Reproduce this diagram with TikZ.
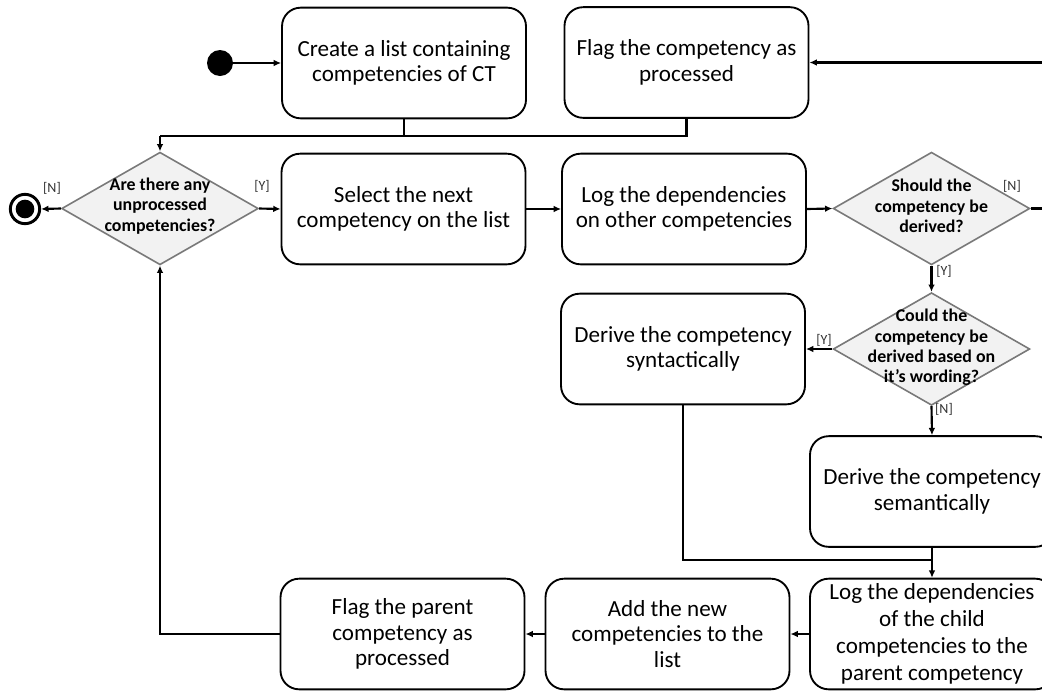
\documentclass[tikz,border=0pt]{standalone}
\usepackage{fontspec}
\setmainfont{Carlito}
\usetikzlibrary{shapes.geometric,arrows.meta}
\begin{document}
\begin{tikzpicture}[x=0.75pt,y=-0.75pt,
  box/.style={draw=black,line width=1.4pt,rounded corners=14pt,fill=white,
    minimum width=183pt,minimum height=83pt,align=center,inner sep=0pt,
    font=\fontsize{17.3}{19}\selectfont},
  dia/.style={diamond,draw=gray!95!black,line width=1.2pt,fill=gray!10,
    minimum width=147.5pt,minimum height=84.5pt,inner sep=0pt,aspect=1.74},
  diatext/.style={align=center,font=\fontsize{13.4}{15.3}\selectfont\bfseries},
  conn/.style={line width=1.6pt},
  arr/.style={conn,-{Latex[length=5.5pt,width=5pt]}},
  lab/.style={font=\fontsize{10.5}{11}\selectfont,text=black!80,inner sep=1pt}]
\useasboundingbox (0,0) rectangle (1042,690);
\clip (0,0) rectangle (1042,690);

% nodes
\node[circle,fill=black,minimum size=19.5pt,inner sep=0pt] (start) at (220,63) {};
\node[circle,draw=black,line width=2.2pt,fill=white,minimum size=22pt,inner sep=0pt] (end) at (25,209) {};
\node[circle,fill=black,minimum size=14pt,inner sep=0pt] (endin) at (end) {};

\node[box] (create) at (404,63) {Create a list containing\\competencies of CT};
\node[box] (flag) at (686.5,62.5) {Flag the competency as\\processed};
\node[box] (select) at (403.5,209) {Select the next\\competency on the list};
\node[box] (logdep) at (684,209) {Log the dependencies\\on other competencies};
\node[box] (syn) at (683,349) {Derive the competency\\syntactically};
\node[box] (sem) at (932,491.5) {Derive the competency\\semantically};
\node[box,font=\fontsize{17.3}{20.25}\selectfont] (child) at (932,634) {Log the dependencies\\of the child\\competencies to the\\parent competency};
\node[box] (addnew) at (667.5,634) {Add the new\\competencies to the\\list};
\node[box] (fparent) at (402.5,634) {Flag the parent\\competency as\\processed};

\node[dia] (d1) at (160,208.5) {};
\node[diatext] at (160,206) {Are there any\\unprocessed\\competencies?};
\node[dia] (d2) at (931.5,208.5) {};
\node[diatext] at (931.5,206) {Should the\\competency be\\derived?};
\node[dia] (d3) at (931.5,349) {};
\node[diatext] at (931.5,347.5) {Could the\\competency be\\derived based on\\it’s wording?};

\coordinate (j1) at (160,136);
\coordinate (j2) at (932,560);
\coordinate (r1) at (1050,208.5);

% connectors
\draw[arr] (start) -- (create);
\draw[conn] (create.south) |- (j1);
\draw[conn] (flag.south) |- (j1);
\draw[arr] (j1) -- (d1.north);
\draw[arr] (d1.west) -- (end.east);
\node[lab] at (52,188) {[N]};
\draw[arr] (d1.east) -- (select.west);
\node[lab] at (262,186) {[Y]};
\draw[arr] (select) -- (logdep);
\draw[arr] (logdep.east) -- (d2.west);
\draw[arr] (d2.east) -- (r1) |- (flag.east);
\node[lab] at (1012,186) {[N]};
\draw[arr] (d2.south) -- (d3.north);
\node[lab] at (944,271) {[Y]};
\draw[arr] (d3.west) -- (syn.east);
\node[lab] at (824,340) {[Y]};
\draw[arr] (d3.south) -- (sem.north);
\node[lab] at (944,409) {[N]};
\draw[conn] (syn.south) |- (j2);
\draw[arr] (sem.south) -- (child.north);
\draw[arr] (child.west) -- (addnew.east);
\draw[arr] (addnew.west) -- (fparent.east);
\draw[arr] (fparent.west) -| (d1.south);
\end{tikzpicture}
\end{document}
